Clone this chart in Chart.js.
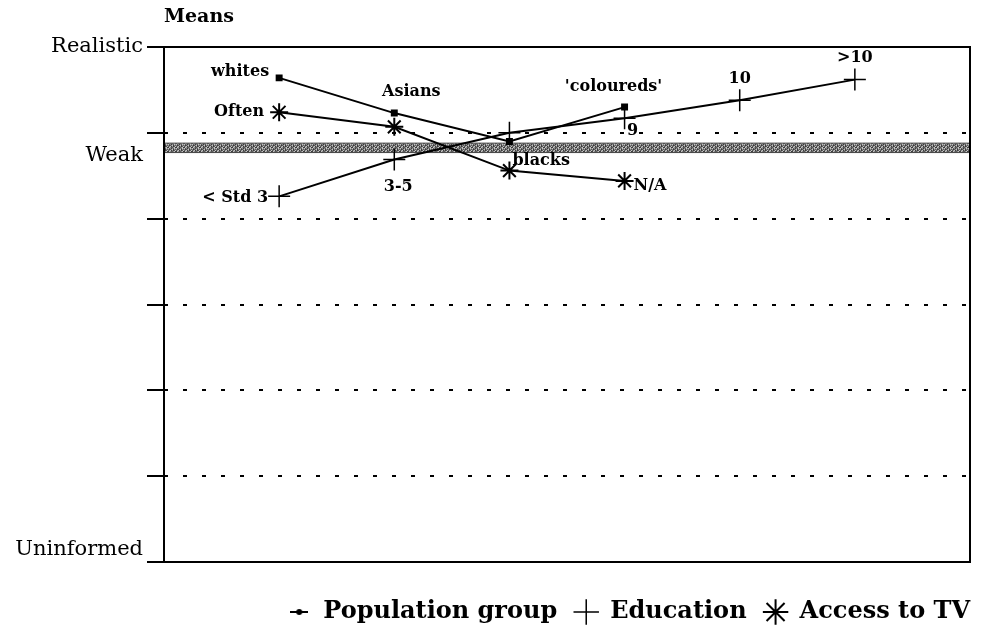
<!DOCTYPE html>
<html>
<head>
<meta charset="utf-8">
<script src="https://cdn.jsdelivr.net/npm/chart.js@4.4.0/dist/chart.umd.min.js"></script>
<style>
  html, body { margin: 0; padding: 0; background: #fff; }
  #wrap { width: 987px; height: 638px; }
</style>
</head>
<body>
<div id="wrap"><canvas id="mycanvas"></canvas></div>
<script>
// groups sit at x = 1..6 on a 0..7 axis, y runs 0 (Uninformed) .. 6 (Realistic)
var popX = [1, 2, 3, 4];
var popY = [5.64, 5.23, 4.90, 5.30];
var popLabels = ['whites', 'Asians', 'blacks', "'coloureds'"];

var eduX = [1, 2, 3, 4, 5, 6];
var eduY = [4.26, 4.69, 5.00, 5.17, 5.38, 5.62];
var eduLabels = ['< Std 3', '3-5', '', '9', '10', '>10'];

var tvX = [1, 2, 3, 4];
var tvY = [5.24, 5.07, 4.56, 4.44];
var tvLabels = ['Often', '', '', 'N/A'];

var bandY = [4.77, 4.88];
var yTickVals = [0, 0.15, 1, 2, 3, 4, 4.74, 5, 6];
var yTickText = { '0.15': 'Uninformed', '4.74': 'Weak', '6': 'Realistic' };

var serif = "'DejaVu Serif', serif";

// label offsets in pixels [dx, dy, align]
var popPos = [[-10, -6, 'right'], [17, -21, 'center'], [3, 19, 'left'], [-11, -20, 'center']];
var eduPos = [[-11, 1, 'right'], [4, 27, 'center'], [0, 0, 'center'], [8, 13, 'center'], [0, -21, 'center'], [0, -22, 'center']];
var tvPos = [[-15, 0, 'right'], [0, 0, 'center'], [0, 0, 'center'], [9, 5, 'left']];

function pts(xs, ys) {
  var out = [];
  for (var i = 0; i < xs.length; i++) out.push({ x: xs[i], y: ys[i] });
  return out;
}

// speckled grey for the band
function bandPattern() {
  var rows = ['21030120', '03102301', '10230312', '32011023'];
  var cols = ['#8a8a8a', '#5a5a5a', '#c4c4c4', '#3c3c3c'];
  var c = document.createElement('canvas');
  c.width = 8; c.height = 4;
  var g = c.getContext('2d');
  for (var r = 0; r < 4; r++) {
    for (var k = 0; k < 8; k++) {
      g.fillStyle = cols[+rows[r][k]];
      g.fillRect(k, r, 1, 1);
    }
  }
  return g.createPattern(c, 'repeat');
}

// legend marker for population: short line with a dot
function popMarker() {
  var c = document.createElement('canvas');
  c.width = 18; c.height = 8;
  var g = c.getContext('2d');
  g.strokeStyle = '#000'; g.lineWidth = 2;
  g.beginPath(); g.moveTo(0, 4); g.lineTo(18, 4); g.stroke();
  g.fillStyle = '#000';
  g.beginPath(); g.arc(9, 4, 3, 0, Math.PI * 2); g.fill();
  return c;
}

var pointText = {
  id: 'pointText',
  afterDatasetsDraw: function(chart) {
    var ctx = chart.ctx;
    ctx.save();
    ctx.fillStyle = '#000';
    ctx.font = 'bold 16px ' + serif;
    ctx.textBaseline = 'middle';
    chart.data.datasets.forEach(function(ds, i) {
      if (!ds.pointText) return;
      var meta = chart.getDatasetMeta(i);
      ds.pointText.forEach(function(t, j) {
        if (!t) return;
        var p = meta.data[j];
        var o = ds.textPos[j];
        ctx.textAlign = o[2];
        ctx.fillText(t, p.x + o[0], p.y + o[1]);
      });
    });
    ctx.restore();
  }
};

var frame = {
  id: 'frame',
  afterDatasetsDraw: function(chart) {
    var a = chart.chartArea, ctx = chart.ctx;
    ctx.save();
    ctx.strokeStyle = '#000';
    ctx.lineWidth = 2;
    ctx.strokeRect(a.left, a.top, a.right - a.left, a.bottom - a.top);
    ctx.font = 'bold 19px ' + serif;
    ctx.fillStyle = '#000';
    ctx.textAlign = 'left';
    ctx.textBaseline = 'middle';
    ctx.fillText('Means', a.left, 17);
    ctx.restore();
  }
};

var ctx = document.getElementById('mycanvas');

var chartdata = {
  datasets: [
    {
      label: 'Population group',
      data: pts(popX, popY),
      showLine: true,
      borderColor: '#000',
      backgroundColor: '#000',
      borderWidth: 2,
      pointStyle: 'rect',
      pointRadius: 3.5,
      pointText: popLabels,
      textPos: popPos
    },
    {
      label: 'Education',
      data: pts(eduX, eduY),
      showLine: true,
      borderColor: '#000',
      backgroundColor: '#000',
      borderWidth: 2,
      pointStyle: 'cross',
      pointRadius: 11,
      pointBorderWidth: 1.5,
      pointText: eduLabels,
      textPos: eduPos
    },
    {
      label: 'Access to TV',
      data: pts(tvX, tvY),
      showLine: true,
      borderColor: '#000',
      backgroundColor: '#000',
      borderWidth: 2,
      pointStyle: 'star',
      pointRadius: 9,
      pointBorderWidth: 2,
      pointText: tvLabels,
      textPos: tvPos
    },
    {
      label: 'band top',
      data: pts([0, 7], [bandY[1], bandY[1]]),
      showLine: true,
      borderColor: '#444',
      borderWidth: 1,
      pointRadius: 0,
      fill: false,
      order: 5
    },
    {
      label: 'band bottom',
      data: pts([0, 7], [bandY[0], bandY[0]]),
      showLine: true,
      borderColor: '#444',
      borderWidth: 1,
      pointRadius: 0,
      backgroundColor: bandPattern(),
      fill: '-1',
      order: 5
    }
  ]
};

var defaultLabels = Chart.defaults.plugins.legend.labels.generateLabels;

new Chart(ctx, {
  type: 'scatter',
  data: chartdata,
  plugins: [pointText, frame],
  options: {
    responsive: true,
    maintainAspectRatio: false,
    animation: false,
    layout: { padding: { top: 47, right: 0, bottom: 4, left: 0 } },
    scales: {
      x: {
        type: 'linear',
        min: 0,
        max: 7,
        ticks: { display: false },
        grid: { display: false },
        border: { display: false },
        afterFit: function(s) { s.height = 21; }
      },
      y: {
        type: 'linear',
        min: 0,
        max: 6,
        afterBuildTicks: function(axis) {
          axis.ticks = yTickVals.map(function(v) { return { value: v }; });
        },
        afterFit: function(s) { s.width = 164; },
        ticks: {
          autoSkip: false,
          padding: 4,
          color: '#000',
          font: { family: serif, size: 21 },
          callback: function(v) { return yTickText[String(v)] || ''; }
        },
        grid: {
          lineWidth: 2,
          tickLength: 17,
          tickWidth: 2,
          color: function(c) {
            var v = c.tick ? c.tick.value : 0;
            return (v >= 1 && v <= 5 && Number.isInteger(v)) ? '#000' : 'rgba(0,0,0,0)';
          },
          tickColor: function(c) {
            var v = c.tick ? c.tick.value : 0;
            return Number.isInteger(v) ? '#000' : 'rgba(0,0,0,0)';
          }
        },
        border: { display: false, dash: [4, 15] }
      },
      yRight: {
        type: 'linear',
        position: 'right',
        min: 0,
        max: 6,
        ticks: { display: false },
        grid: { display: false },
        border: { display: false },
        afterFit: function(s) { s.width = 17; }
      }
    },
    plugins: {
      tooltip: { enabled: false },
      legend: {
        position: 'bottom',
        align: 'end',
        labels: {
          usePointStyle: true,
          color: '#000',
          padding: 17,
          boxHeight: 18,
          font: { family: serif, size: 24, weight: 'bold' },
          filter: function(item) { return item.datasetIndex < 3; },
          generateLabels: function(chart) {
            var items = defaultLabels(chart);
            items.forEach(function(it) {
              if (it.datasetIndex === 0) it.pointStyle = popMarker();
            });
            return items;
          }
        }
      }
    }
  }
});
</script>
</body>
</html>
